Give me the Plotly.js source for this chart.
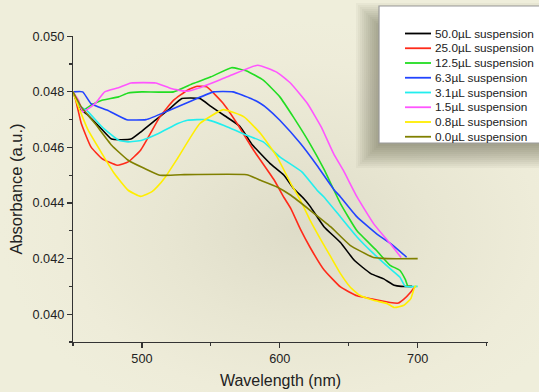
<!DOCTYPE html>
<html>
<head>
<meta charset="utf-8">
<script src="https://cdn.plot.ly/plotly-3.0.1.min.js"></script>
<style>
  html, body { margin: 0; padding: 0; }
  body {
    width: 539px; height: 392px; overflow: hidden;
    background: radial-gradient(ellipse 300px 210px at 300px 230px, #dedcc8 0%, #e8e6d2 45%, #eeecd9 80%, #efeedb 100%);
  }
  #chart { width: 539px; height: 392px; }
</style>
</head>
<body>
<div id="chart"></div>
<script>
// Absorbance spectra for decreasing suspension volumes
const seriesNames = ["50.0\u00b5L suspension", "25.0\u00b5L suspension", "12.5\u00b5L suspension", "6.3\u00b5L suspension",
                     "3.1\u00b5L suspension", "1.5\u00b5L suspension", "0.8\u00b5L suspension", "0.0\u00b5L suspension"];
const seriesColors = ["#000000", "#ff2a1a", "#22dd22", "#2244ff", "#22eeee", "#ff55ff", "#ffee00", "#808000"];

const wl50 = [450,455,460,470,478,492,500,510,520,529,542,550,560,571,580,593,603,610,617,622,632,644,654,666,675,683,688,696];
const abs50 = [0.0480,0.0474,0.0472,0.0467,0.0463,0.0463,0.04659,0.04699,0.04739,0.04776,0.04776,0.04748,0.04714,0.04676,0.04610,0.04542,0.04500,0.04452,0.04418,0.04388,0.04315,0.04258,0.04194,0.04146,0.04128,0.04104,0.0410,0.0410];

const wl25 = [450,452,456,463,471,482,490,499,513,523,533,540,547,559,569,581,596,603,608,615,622,632,644,656,668,680,686,690,695,698];
const abs25 = [0.0480,0.0477,0.04686,0.04602,0.0456,0.04536,0.04548,0.0459,0.0471,0.0477,0.04806,0.0482,0.04818,0.04758,0.04686,0.0459,0.04482,0.0442,0.0438,0.04305,0.0424,0.0416,0.04098,0.04066,0.04054,0.04042,0.0404,0.04054,0.0408,0.0410];

const wl125 = [450,457,464,471,483,490,500,523,537,550,565,576,588,600,610,622,632,644,656,670,680,687,691,693,695];
const abs125 = [0.0480,0.04734,0.04755,0.0477,0.04782,0.04796,0.0480,0.0480,0.0483,0.04854,0.04887,0.04875,0.04842,0.04782,0.04708,0.04612,0.04522,0.04398,0.04300,0.0423,0.04176,0.04158,0.04125,0.0410,0.0410];

const wl63 = [450,457,463,475,489,503,520,537,552,566,579,586,591,600,615,627,639,644,656,670,682,692];
const abs63 = [0.0480,0.0480,0.04758,0.04734,0.0470,0.0470,0.04734,0.0477,0.0480,0.0480,0.04776,0.04758,0.0474,0.04698,0.04614,0.04535,0.04450,0.04422,0.0435,0.0429,0.04248,0.04205];

const wl31 = [450,455,461,471,483,490,500,512,526,533,547,562,576,588,600,616,627,632,644,656,668,680,687,691,700];
const abs31 = [0.0480,0.0475,0.04728,0.04674,0.04626,0.0462,0.04626,0.0465,0.04686,0.04698,0.0470,0.04674,0.04644,0.0462,0.04566,0.04512,0.04446,0.04422,0.0435,0.04278,0.04218,0.04164,0.04134,0.0410,0.0410];

const wl15 = [450,454,457,466,473,483,492,510,521,532,542,562,584,598,608,620,630,639,646,656,668,680,688];
const abs15 = [0.0480,0.0477,0.04728,0.04758,0.0480,0.04815,0.04832,0.04832,0.04812,0.04802,0.04815,0.04854,0.04896,0.0487,0.0483,0.04758,0.04674,0.04578,0.04518,0.04422,0.04326,0.04254,0.04204];

const wl08 = [450,454,461,471,480,490,499,507,511,517,526,542,559,574,586,598,608,615,622,630,637,644,651,658,668,678,683,690,695,698,699];
const abs08 = [0.0480,0.04746,0.04662,0.04578,0.04506,0.04446,0.04424,0.0444,0.04458,0.04494,0.04562,0.04686,0.04736,0.0471,0.0465,0.04566,0.0447,0.0441,0.04338,0.04266,0.04206,0.04146,0.04098,0.04068,0.0405,0.04038,0.04024,0.04032,0.04056,0.0410,0.0410];

const wl00 = [450,456,466,478,490,502,513,528,576,586,598,608,622,637,651,668,678,700];
const abs00 = [0.0480,0.04746,0.04686,0.04608,0.04554,0.04524,0.0450,0.04502,0.04502,0.04482,0.04458,0.04428,0.04374,0.04314,0.04248,0.04204,0.0420,0.0420];

const wavelengths = [wl50, wl25, wl125, wl63, wl31, wl15, wl08, wl00];
const absorbances = [abs50, abs25, abs125, abs63, abs31, abs15, abs08, abs00];

const xTickVals = [500, 600, 700];
const yTickVals = [0.040, 0.042, 0.044, 0.046, 0.048, 0.050];

// plot area in pixels
const L = 73, T = 36, W = 415, H = 306;
const px = x => (x - L) / W;
const py = y => (T + H - y) / H;

const font = "Liberation Sans, Arial, sans-serif";

const traces = seriesNames.map((name, i) => ({
  type: "scatter", mode: "lines", name: name,
  x: wavelengths[i], y: absorbances[i],
  line: { color: seriesColors[i], width: 1.6, shape: "spline", smoothing: 0.4 },
  showlegend: false, hoverinfo: "skip"
}));

// drawn key box with a soft drop shadow toward the lower left
const box = { x0: 379, x1: 560, y0: 6, y1: 143 };
const shapes = [];
for (let e = -8; e <= 14; e += 2) {
  shapes.push({
    type: "rect", xref: "paper", yref: "paper",
    x0: px(box.x0 - 9 - e), x1: px(box.x1),
    y0: py(box.y1 + 11 + e), y1: py(box.y0 + 11 - e),
    fillcolor: "rgba(70,68,55,0.045)", line: { width: 0 }
  });
}
shapes.push({
  type: "rect", xref: "paper", yref: "paper",
  x0: px(box.x0), x1: px(box.x1), y0: py(box.y1), y1: py(box.y0),
  fillcolor: "#ffffff", line: { color: "#9a9a9a", width: 1.2 }
});
const annotations = [];
seriesNames.forEach((name, i) => {
  const yy = 33.5 + i * 14.75;
  shapes.push({
    type: "line", xref: "paper", yref: "paper",
    x0: px(405), x1: px(431), y0: py(yy), y1: py(yy),
    line: { color: seriesColors[i], width: 1.8 }
  });
  annotations.push({
    xref: "paper", yref: "paper", x: px(433), y: py(yy),
    xanchor: "left", yanchor: "middle", showarrow: false,
    text: name, font: { family: font, size: 11.8, color: "#222" }
  });
});

const axisCommon = {
  showline: true, linecolor: "#333", linewidth: 1.2,
  ticks: "outside", tickcolor: "#333", tickwidth: 1.2, ticklen: 5,
  showgrid: false, zeroline: false,
  tickfont: { family: font, size: 12.7, color: "#222" }
};

const layout = {
  width: 539, height: 392,
  margin: { l: L, r: 539 - L - W, t: T, b: 392 - T - H },
  paper_bgcolor: "rgba(0,0,0,0)", plot_bgcolor: "rgba(0,0,0,0)",
  font: { family: font, color: "#222" },
  xaxis: Object.assign({}, axisCommon, {
    range: [449.99, 751], tickmode: "array", tickvals: xTickVals,
    minor: { tickvals: [450, 550, 650, 750], ticks: "outside", ticklen: 3, tickcolor: "#333", tickwidth: 1.2, showgrid: false },
    title: { text: "Wavelength (nm)", font: { family: font, size: 16, color: "#222" }, standoff: 9 }
  }),
  yaxis: Object.assign({}, axisCommon, {
    range: [0.039, 0.05001], tickmode: "array", tickvals: yTickVals, tickformat: ".3f",
    minor: { tickvals: [0.039, 0.041, 0.043, 0.045, 0.047, 0.049], ticks: "outside", ticklen: 3, tickcolor: "#333", tickwidth: 1.2, showgrid: false },
    title: { text: "Absorbance (a.u.)", font: { family: font, size: 16.5, color: "#222" }, standoff: 5 }
  }),
  shapes: shapes,
  annotations: annotations,
  showlegend: false
};

Plotly.newPlot("chart", traces, layout, { staticPlot: true, displayModeBar: false });
</script>
</body>
</html>
